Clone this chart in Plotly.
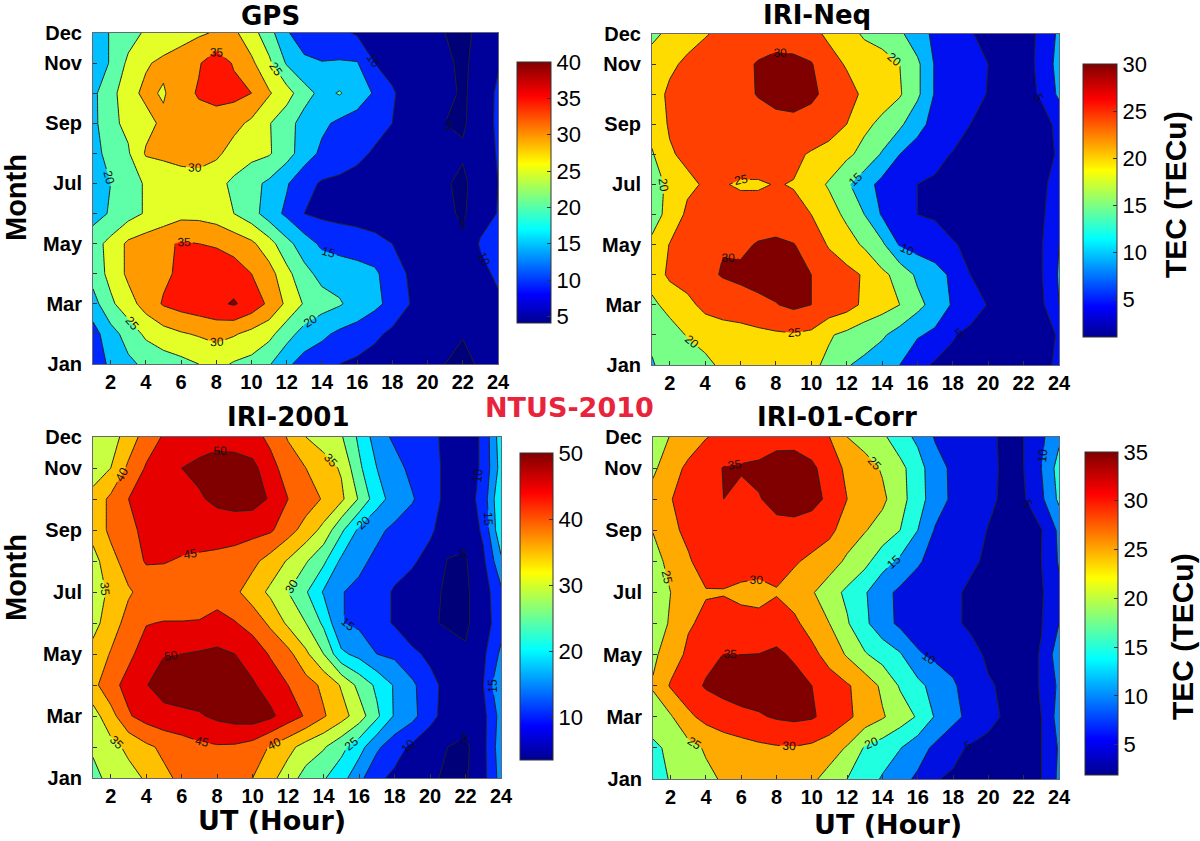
import plotly.graph_objects as go

hours = list(range(1, 25))
months = list(range(1, 13))
month_ticks = ["Jan", "", "Mar", "", "May", "", "Jul", "", "Sep", "", "Nov", "Dec"]
hour_ticks = list(range(2, 25, 2))

# rows run Jan -> Dec, columns 1..24 UT
gps = [
 [12,16,19,21,22.5,23.5,25,26.5,24.5,23.5,20.5,16,13,12,10,9,8,7,6,5.5,5,4,5.5,7],
 [13,18,22,26,28,29.5,30.5,31.5,30.5,28.5,26.5,22,18,16,14,13,11,9,8,7,6,5.2,7,9],
 [18,24,28,32,35.5,37,38,39,40.5,38,34,29,24.5,22,20.5,18,16.2,13.5,10,8,7,6,7,9],
 [22,26.5,31,32.5,34,36,37,38,37.5,35,32,26.5,21.5,18.5,18,17,16,12,9.5,8,7,6,8.5,11],
 [23,26.5,31,32.5,34,35.5,35,34.5,33,31,27,21.5,17.5,14,13,12.5,11.5,10,8.5,7.5,7,6,10.5,12],
 [18,20.5,23,25.5,27,28.5,28.5,27.5,25,22,17.5,14,10,9,8.5,8,7.5,7,6.5,6,6,4.3,8,10.2],
 [18,20,23,25.5,27,28,28.5,26.5,24,21.5,19,15.5,11.5,9.5,9,8.5,8,7,6.5,6,5.5,4,7.5,10],
 [18,22,24.5,30.5,31,31.5,31.5,31,28,26.5,25.5,22,17.5,14,12.5,11,9.5,8.5,7.5,7,6,5.5,7,10.5],
 [18.5,24,26,28.5,31,32,33,33,31.5,29,25.3,22,18,16,14,13,11.5,10,8,6.5,5,4.5,7,11],
 [19,23,28.5,31,29.5,33,35.5,36.5,36.5,35,30.5,27,22,18.5,20.4,17.5,14.5,10.5,8,6.5,6,4.5,6.5,11],
 [16,20.5,26,29.5,31,32.5,34.5,38,34.5,31,26,19.5,16,15.2,15.5,15.3,10,8.5,7,6,5.5,4.5,6,9.5],
 [16,20.5,23,25.7,27,28,29.3,30.5,31,27,22,15.5,12.5,12,11,9.5,8.5,7.5,6.5,6,5,4.5,5.5,8],
]
iri_neq = [
 [14.8,16,17.5,19,20.8,22,23,23.5,23,21,19,15.3,14,12,10,6.5,4.3,4,3.5,3,2.5,2.5,3.5,6],
 [15.5,18,20.3,21.5,22.5,23,23.7,24.3,24.6,24,20.5,18.8,17,15.7,13,10.5,9,5.3,4,3.5,2.5,2.5,3,5.5],
 [19,21.5,23.5,26.5,27.5,28,29,29.8,31,30,28.5,27,24,22,20,16.5,13,9.5,7,4.8,4,3.5,4,10],
 [22,26,27.5,29,30.3,31,31.5,32,32,30,28,26.5,24.5,21,18.5,14,12,9,5,4.5,4,3.5,4.7,10.5],
 [21,25.2,26.5,28,29.8,29,30.4,31,30.2,28,24.5,22,19.3,16,9.5,8,7,5.2,4.5,4,3.5,3.5,4.7,10],
 [18,21.5,26,26.5,27,27,27,27,26,25,22,19,15,9.5,7,5,4.5,4,3.5,3.5,3,3,4,9],
 [17,21.5,24,25.5,25.3,24.5,24.5,25.2,24.8,22,19.5,15.8,12,8.5,6.5,5,4.5,4,3.5,3.5,3,3,4,7],
 [19.5,24.5,26,27,27,27.5,27.5,27,26,24.5,23,21,18.5,14.5,10,8,6,4.8,4,3.5,3,3,3.5,5.5],
 [22,25.5,26.5,27,27.5,28,28.5,29,29,28.5,27.5,25,21,19,16,11.5,8.5,7,5,4,3.5,3,3.5,6],
 [22.5,26,27,27.5,28,29,30.2,31,31.5,30.7,29,27,24,22,20.5,16,9.5,7.5,6.5,4.8,4,3.5,5.5,11],
 [22,24,26,27,28,29,30.3,31,31,30.3,27,24.5,23,22,20,16,9.5,8,6.5,5,4,3.5,6,12],
 [19,21,23,24.7,26,27,28,28.5,28,26.5,24,22,19.3,18,16,12,9,7,5.2,4.2,3.5,3,6,11],
]
iri_2001 = [
 [29,31,33.5,35.5,39,41,42,43,42,40,36.5,32.5,28,25.5,22,16.5,11,9,7,5.5,4.5,4.5,8.5,17],
 [30.5,33.5,36,39,41,42.5,44,44.5,44.3,43,39.5,36.5,33,30.5,26.5,22,16,12,9,7,5,4,8.5,18],
 [33,38,44.5,47,48.5,49,49.5,51,52,52.5,51,47.5,44.5,40.5,37,32.5,26,19.5,16.5,11.5,8,7,8.5,17],
 [38.5,43.5,46.5,49.8,52,52.5,53,53,52.5,50.5,48,45,42,39,34.5,28.5,24,19.5,16,11.5,8.5,7,10,20],
 [37,40.3,44,47,49.8,50,50.5,51,50,48,44.5,41.5,36,30,21,18.5,15,14,11,9,7,5.5,9,16],
 [33,38,41.5,44.8,45.2,45.2,45.3,46.5,45.3,43,39,34,30,24,15.2,14,12,9.5,7,5.5,4.5,4.3,7.5,13],
 [32.5,36,39.5,41.5,42,42,42.5,43,41,37.5,34,30,25.5,19.5,15.2,14,12,9.5,7.5,5.8,4.5,4.3,7.5,14],
 [33,38.5,42,45.5,45.3,44.5,44,43.5,43,41.3,38,34.5,30.5,26,19,16,14,12,10.8,8,4.8,4.6,9,19],
 [37,41,44,46,47,47.5,47.5,47.5,47,46.5,45.7,42,38,33.5,26,19,16,14,12,11,7,6,11,24],
 [37,41,45,47,47.5,48,49.5,51,52,52,49.5,45,42.5,39.5,36,29.5,22,18,15.5,11.5,9,7.5,12,25],
 [32,35,41,45.5,47,50,51,52,52,51.5,46.5,43,40,37,34.5,26,20,17,13.5,11.5,9,7,11,22],
 [30,33,37,42.5,45.5,47,48,48.5,48,46.5,44,39.5,35,33,30.5,24,17.5,14,12.5,11,9,7,11,23],
]
iri_corr = [
 [17,20.5,22,24,25.5,26.5,27.5,28,27.5,26,23,20,17.5,14.5,11.5,9.2,5.2,4.5,4,3.5,3,3,5,11],
 [19,21,23.5,25.5,27,28,29,29.5,29.7,29,27.5,24.5,19.5,17.5,15.2,12,9,6,4.5,4,3.5,3,5,10.5],
 [22.5,24.5,29,31.5,33,34,34.5,35.5,36,35.5,33.5,31,28,25.5,22.5,19.5,14.5,11.5,8.5,6,4.5,3.5,5,12],
 [25.5,30.5,33,35.5,36.5,37,37.5,37.5,37,35,32.5,30.5,28,24,19.5,16.5,13,10.7,7.5,5.3,4.5,4,5.2,11],
 [24,27.5,31,33.5,35.1,35,35.1,36,34.2,31.5,28,24.5,20.5,18,15.5,10.5,9,8,6,4.5,4,3.5,5.3,13],
 [22.5,25.5,29.5,31,31.5,31.5,31.5,32,31,28,25,20.5,16,12,9,8,7,5.5,4.5,4,3.5,3,4.8,10],
 [21,25,27.5,29.7,29.8,29,28.5,29.7,28,25.5,22,19,15.5,11.5,9,8,7,5.5,4.5,4,3.5,3,4.5,9],
 [23,26.5,29.5,32,31.5,32,32,31.5,30.5,29,27.5,24,21.5,17,14,10.5,8.5,7,5.5,4.5,4,3.5,5,10.5],
 [25.2,29,31,32.5,33,33.5,34,34,33.5,32.5,31,28,25.3,23,20,15,9.5,8.5,6,4.9,4.5,4,4.8,11],
 [27,29.8,32,33.5,35,33.5,34.8,36,37,36.5,34,30,28,26,22,17,12.5,9,7.5,5.5,4.5,4.5,9,16],
 [24,28,31,33,35.2,35.5,35.7,36.5,37,36,32.5,29,27,24.5,21.5,17,12,9,7.5,5.8,4.4,5,10,17],
 [22,25.3,27.5,29.8,31,32,33,33.8,33.5,32,30,25,23,21,17,14,9.5,8,6.5,5.5,4.5,5,9,14],
]

titles = ["GPS", "IRI-Neq", "IRI-2001", "IRI-01-Corr"]
datasets = [gps, iri_neq, iri_2001, iri_corr]
level_start = [5, 5, 5, 5]
level_end = [40, 30, 50, 35]
level_size = [5, 5, 5, 5]

# band fill colours, lowest (below the first level) to highest
band_colors = [
 ["#000078","#00009a","#0028ff","#00c0ff","#5effa8","#e4ff28","#ff9a00","#ff1400","#800000"],
 ["#000098","#0010f0","#00b4ff","#78ff88","#ffdc00","#ff4000","#800000"],
 ["#000078","#00009a","#0028ff","#0090ff","#00f0ff","#60ffa0","#c8ff40","#ffc000","#ff6400","#e60000","#800000"],
 ["#000090","#0010e0","#0088ff","#20ffe0","#aaff55","#ffaa00","#ff2000","#800000"],
]
cbar_ranges = [(4.1, 40), (1, 30), (3.5, 50), (1.9, 35)]
cbar_ticks = [[5,10,15,20,25,30,35,40], [5,10,15,20,25,30], [10,20,30,40,50], [5,10,15,20,25,30,35]]

W, H = 1200, 841
boxes = [(93, 498, 33, 364), (652, 1059, 34, 365), (93, 501, 437, 778), (653, 1059, 437, 779)]
cbar_boxes = [(517, 551, 62, 323), (1083, 1117, 64, 337), (520, 553, 453, 760), (1085, 1118, 452, 775)]
title_pos = [(270, 16), (817, 15), (288, 417), (837, 417)]

def fx(px):
    return px / W

def fy(py):
    return 1 - py / H

jet = [[0, "#00008f"], [0.11, "#0000ff"], [0.36, "#00ffff"], [0.61, "#ffff00"], [0.87, "#ff0000"], [1, "#800000"]]

def step_scale(colors):
    n = len(colors)
    out = []
    for i, c in enumerate(colors):
        out.append([i / n, c])
        out.append([(i + 1) / n, c])
    return out

fig = go.Figure()
layout = dict(width=W, height=H, margin=dict(l=0, r=0, t=0, b=0, autoexpand=False), paper_bgcolor="white",
              plot_bgcolor="white", showlegend=False, font=dict(family="Liberation Sans", color="black"))
annos = []

def label(text, px, py, size, angle=0, color="black", family="DejaVu Sans"):
    annos.append(dict(text=f"<b>{text}</b>", xref="paper", yref="paper", x=fx(px), y=fy(py), showarrow=False,
                      textangle=angle, font=dict(size=size, family=family, color=color),
                      xanchor="center", yanchor="middle"))

for i in range(4):
    ax = "" if i == 0 else str(i + 1)
    x0, x1, y0, y1 = boxes[i]
    layout["xaxis" + ax] = dict(domain=[fx(x0), fx(x1)], range=[1, 24], tickvals=hour_ticks, ticks="inside", ticklen=4,
                                tickcolor="#333", linecolor="#667", linewidth=1, mirror=True, showgrid=False, zeroline=False,
                                tickfont=dict(size=20, family="Liberation Sans", weight="bold"), anchor="y" + ax)
    layout["yaxis" + ax] = dict(domain=[fy(y1), fy(y0)], range=[1, 12], tickvals=months, ticktext=month_ticks,
                                ticks="inside", ticklen=4, tickcolor="#333", linecolor="#667", linewidth=1, mirror=True,
                                showgrid=False, zeroline=False, ticklabelstandoff=6,
                                tickfont=dict(size=20, family="Liberation Sans", weight="bold"), anchor="x" + ax)
    s, e, d = level_start[i], level_end[i], level_size[i]
    cols = band_colors[i]
    fig.add_trace(go.Contour(
        x=hours, y=months, z=datasets[i], xaxis="x" + ax, yaxis="y" + ax,
        zmin=s - d, zmax=s - d + d * len(cols), colorscale=step_scale(cols), showscale=False,
        contours=dict(start=s, end=e, size=d, coloring="fill", showlabels=True,
                      labelfont=dict(size=12, color="#111", family="Liberation Sans")),
        line=dict(color="#222", width=1, smoothing=0), hoverinfo="skip"))
    cx0, cx1, cy0, cy1 = cbar_boxes[i]
    cmin, cmax = cbar_ranges[i]
    fig.add_trace(go.Scatter(
        x=[None], y=[None], xaxis="x" + ax, yaxis="y" + ax, mode="markers", hoverinfo="skip",
        marker=dict(color=[cmin], cmin=cmin, cmax=cmax, colorscale=jet, showscale=True,
                    colorbar=dict(x=fx(cx0), xanchor="left", y=fy(cy1), yanchor="bottom",
                                  len=(cy1 - cy0) / H, lenmode="fraction", thickness=cx1 - cx0, thicknessmode="pixels",
                                  tickvals=cbar_ticks[i], ticks="inside", ticklen=4, tickcolor="#333",
                                  outlinecolor="#333", outlinewidth=1, xpad=0, ypad=0,
                                  tickfont=dict(size=22, family="Liberation Sans", color="black")))))
    label(titles[i], title_pos[i][0], title_pos[i][1], 26)

label("Month", 16, 198, 29, -90, family="Liberation Sans")
label("Month", 16, 578, 29, -90, family="Liberation Sans")
label("UT (Hour)", 272, 820, 27)
label("UT (Hour)", 888, 824, 27)
label("TEC (TECu)", 1176, 195, 30, -90, family="Liberation Sans")
label("TEC (TECu)", 1182, 637, 30, -90, family="Liberation Sans")
label("NTUS-2010", 569, 408, 27, 0, "#e8243c")

layout["annotations"] = annos
fig.update_layout(**layout)
fig.write_html("out.html", config={"displayModeBar": False}, post_script="document.body.style.margin='0';")
